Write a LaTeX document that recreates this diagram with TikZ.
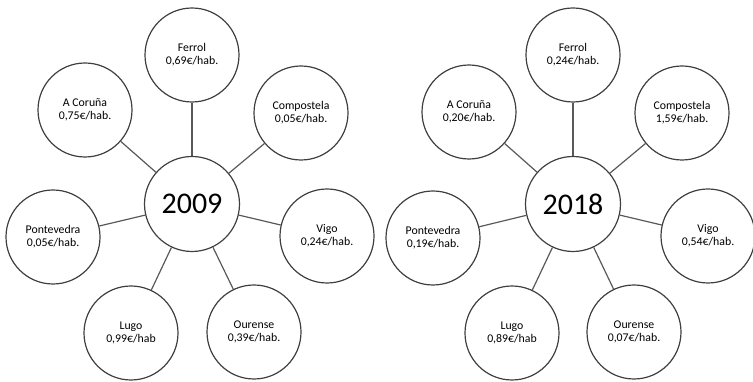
\documentclass[tikz,border=0pt]{standalone}
\usepackage{fontspec}
\setmainfont{Carlito}
\begin{document}
\begin{tikzpicture}[x=1pt,y=1pt,
  sat/.style={circle,draw=black!75,line width=1.2pt,minimum size=94pt,inner sep=0pt,align=center,font=\fontsize{11.8}{13}\selectfont},
  hub/.style={circle,draw=black!75,line width=1.2pt,minimum size=95pt,inner sep=0pt,font=\fontsize{30}{32}\selectfont},
  link/.style={draw=black!65,line width=1.2pt}]
\useasboundingbox (0,0) rectangle (753,382);
% ---------- 2009 ----------
\node[hub] (Lc) at (192,178) {2009};
\node[sat] (Lfe) at (192,327) {Ferrol\\0,69€/hab.};
\node[sat] (Lac) at (85,272) {A Coruña\\0,75€/hab.};
\node[sat] (Lco) at (301,269) {Compostela\\0,05€/hab.};
\node[sat] (Lpo) at (53,145) {Pontevedra\\0,05€/hab.};
\node[sat] (Lvi) at (327,146) {Vigo\\0,24€/hab.};
\node[sat] (Llu) at (131,49) {Lugo\\0,99€/hab};
\node[sat] (Lou) at (254,50) {Ourense\\0,39€/hab.};
\foreach \n in {fe,ac,co,po,vi,lu,ou} \draw[link] (Lc) -- (L\n);
% ---------- 2018 ----------
\node[hub] (Rc) at (573,178) {2018};
\node[sat] (Rfe) at (573,327) {Ferrol\\0,24€/hab.};
\node[sat] (Rac) at (469,270) {A Coruña\\0,20€/hab.};
\node[sat] (Rco) at (682,269) {Compostela\\1,59€/hab.};
\node[sat] (Rpo) at (433,144) {Pontevedra\\0,19€/hab.};
\node[sat] (Rvi) at (708,146) {Vigo\\0,54€/hab.};
\node[sat] (Rlu) at (512,49) {Lugo\\0,89€/hab};
\node[sat] (Rou) at (634,50) {Ourense\\0,07€/hab.};
\foreach \n in {fe,ac,co,po,vi,lu,ou} \draw[link] (Rc) -- (R\n);
\end{tikzpicture}
\end{document}
